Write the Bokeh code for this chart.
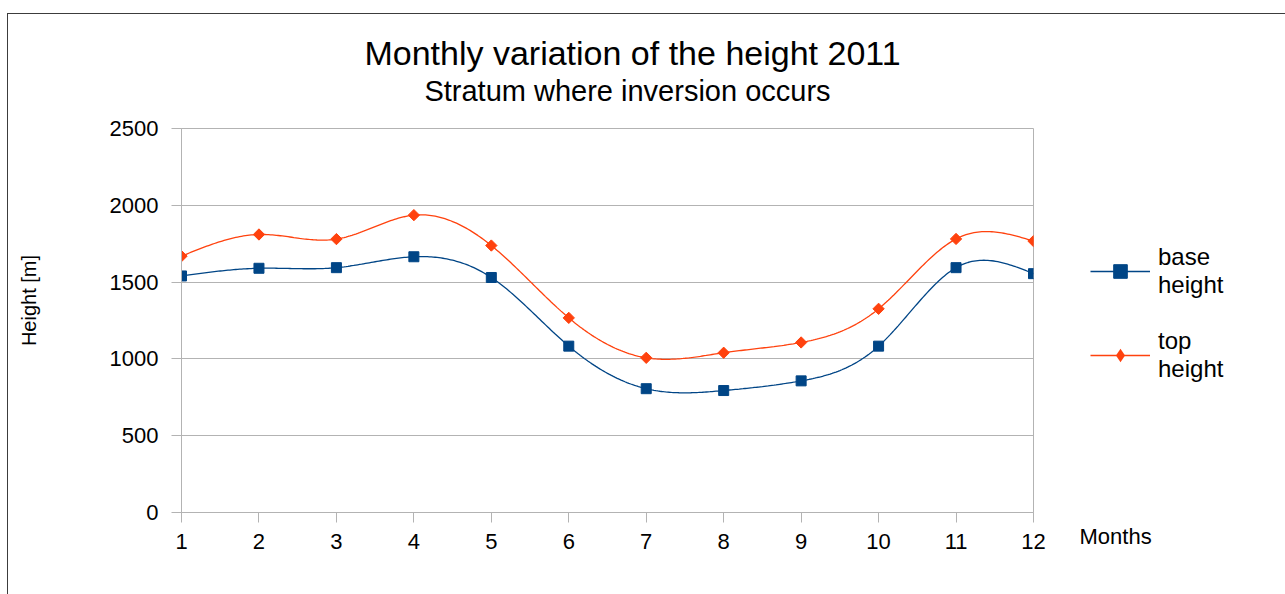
import numpy as np
from bokeh.plotting import figure
from bokeh.models import (Label, Legend, LegendItem, FixedTicker, Range1d)
from bokeh.embed import file_html
from bokeh.resources import INLINE

months = [1, 2, 3, 4, 5, 6, 7, 8, 9, 10, 11, 12]
base_height = [1540, 1590, 1594, 1665, 1530, 1083, 806, 794, 857, 1083, 1594, 1555]
top_height = [1669, 1810, 1780, 1936, 1738, 1267, 1007, 1040, 1107, 1326, 1781, 1767]
y_ticks = [0, 500, 1000, 1500, 2000, 2500]

FONT = "Liberation Sans"
BASE_COLOR = "#004586"
TOP_COLOR = "#ff420e"


def natural_spline(xs, ys, n=40):
    xs = np.asarray(xs, float)
    ys = np.asarray(ys, float)
    k = len(xs)
    h = np.diff(xs)
    A = np.zeros((k, k))
    r = np.zeros(k)
    A[0, 0] = 1
    A[-1, -1] = 1
    for i in range(1, k - 1):
        A[i, i - 1] = h[i - 1]
        A[i, i] = 2 * (h[i - 1] + h[i])
        A[i, i + 1] = h[i]
        r[i] = 6 * ((ys[i + 1] - ys[i]) / h[i] - (ys[i] - ys[i - 1]) / h[i - 1])
    M = np.linalg.solve(A, r)
    px, py = [], []
    for i in range(k - 1):
        t = np.linspace(xs[i], xs[i + 1], n, endpoint=(i == k - 2))
        a = (xs[i + 1] - t) / h[i]
        b = (t - xs[i]) / h[i]
        s = (a * ys[i] + b * ys[i + 1]
             + ((a ** 3 - a) * M[i] + (b ** 3 - b) * M[i + 1]) * h[i] ** 2 / 6)
        px.extend(t)
        py.extend(s)
    return px, py


p = figure(width=1285, height=594, output_backend="svg", toolbar_location=None,
           x_range=Range1d(1, 12), y_range=Range1d(0, 2500),
           frame_width=852, frame_height=384,
           min_border_left=181, min_border_right=252,
           min_border_top=128, min_border_bottom=82)
p.title.visible = False
p.background_fill_color = "white"
p.border_fill_alpha = 0
p.styles = {"background": "linear-gradient(#3c3c3c,#3c3c3c) 7px 13px / 1px 2000px no-repeat, "
                          "linear-gradient(#3c3c3c,#3c3c3c) 7px 13px / 3000px 1px no-repeat, white"}
p.outline_line_color = "#b3b3b3"
p.outline_line_width = 1

p.xgrid.visible = False
p.ygrid.grid_line_color = "#b3b3b3"
p.ygrid.ticker = FixedTicker(ticks=y_ticks)

p.xaxis.ticker = FixedTicker(ticks=months)
p.yaxis.ticker = FixedTicker(ticks=y_ticks)
for ax in (p.xaxis[0], p.yaxis[0]):
    ax.axis_line_color = "#b3b3b3"
    ax.major_tick_line_color = "#b3b3b3"
    ax.major_tick_out = 10
    ax.major_tick_in = 0
    ax.minor_tick_line_color = None
    ax.major_label_text_font = FONT
    ax.major_label_text_font_size = "22px"
    ax.major_label_text_color = "black"
p.xaxis.major_label_standoff = 11
p.yaxis.major_label_standoff = 13

bx, by = natural_spline(months, base_height)
tx, ty = natural_spline(months, top_height)

l_base = p.line(bx, by, line_color=BASE_COLOR, line_width=1.3)
m_base = p.scatter(months, base_height, marker="square", size=10,
                   fill_color=BASE_COLOR, line_color=BASE_COLOR)
l_top = p.line(tx, ty, line_color=TOP_COLOR, line_width=1.3)
m_top = p.scatter(months, top_height, marker="square", size=8, angle=np.pi / 4,
                  fill_color=TOP_COLOR, line_color=TOP_COLOR)
# diamond symbol used for the legend key; it sits inside the rotated squares
m_top_key = p.scatter(months, top_height, marker="diamond", size=10,
                      fill_color=TOP_COLOR, line_color=None)

legend = Legend(items=[LegendItem(label="base\nheight", renderers=[l_base, m_base]),
                       LegendItem(label="top\nheight", renderers=[l_top, m_top_key])],
                location=(57, 129))
legend.background_fill_alpha = 0
legend.border_line_color = None
legend.padding = 0
legend.margin = 0
legend.spacing = 28
legend.glyph_width = 60
legend.glyph_height = 34
legend.label_standoff = 8
legend.label_text_font = FONT
legend.label_text_font_size = "24px"
legend.label_text_color = "black"
p.add_layout(legend, "right")

# subtitle first (closest to the frame), then main title
p.add_layout(Label(x=446, y=38, x_units="screen", y_units="screen",
                   text="Stratum where inversion occurs", text_font=FONT,
                   text_font_size="29px", text_color="black",
                   text_align="center", text_baseline="middle"), "above")
p.add_layout(Label(x=451, y=44, x_units="screen", y_units="screen",
                   text="Monthly variation of the height 2011", text_font=FONT,
                   text_font_size="34px", text_color="black",
                   text_align="center", text_baseline="middle"), "above")

p.add_layout(Label(x=898, y=40, x_units="screen", y_units="screen",
                   text="Months", text_font=FONT, text_font_size="22px",
                   text_color="black", text_align="left", text_baseline="middle"), "below")

p.add_layout(Label(x=-56, y=212, x_units="screen", y_units="screen",
                   text="Height [m]", text_font=FONT, text_font_size="20px",
                   text_color="black", text_align="center", text_baseline="middle",
                   angle=np.pi / 2), "left")

open("out.html", "w").write(file_html(p, INLINE))
